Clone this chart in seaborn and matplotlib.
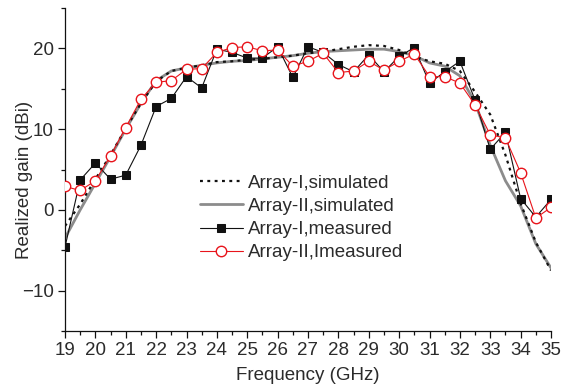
import matplotlib
matplotlib.use("Agg")
import matplotlib.pyplot as plt
from matplotlib.ticker import MultipleLocator
import seaborn as sns
import pandas as pd

# ---- data ----
freq = [19.0, 19.5, 20.0, 20.5, 21.0, 21.5, 22.0, 22.5, 23.0, 23.5, 24.0, 24.5,
        25.0, 25.5, 26.0, 26.5, 27.0, 27.5, 28.0, 28.5, 29.0, 29.5, 30.0, 30.5,
        31.0, 31.5, 32.0, 32.5, 33.0, 33.5, 34.0, 34.5, 35.0]

array1_sim = [-2.0, 0.7, 3.8, 6.8, 10.1, 13.2, 15.9, 17.2, 17.6, 17.9, 18.3, 18.4,
              18.6, 18.7, 18.9, 19.1, 19.4, 19.6, 19.9, 20.2, 20.4, 20.3, 19.8, 19.0,
              18.4, 18.1, 17.2, 14.6, 11.8, 6.8, 0.8, -4.0, -7.5]

array2_sim = [-3.5, 0.0, 3.3, 6.6, 10.0, 13.2, 16.0, 17.2, 17.6, 17.9, 18.2, 18.4,
              18.5, 18.7, 18.9, 19.1, 19.4, 19.6, 19.7, 19.8, 19.9, 19.9, 19.6, 19.1,
              18.2, 17.8, 16.6, 13.3, 8.0, 3.6, 0.5, -4.2, -7.2]

array1_meas = [-4.6, 3.7, 5.8, 3.8, 4.3, 8.0, 12.8, 13.8, 16.5, 15.1, 19.9, 19.5,
               18.8, 18.8, 20.2, 16.4, 20.2, 19.5, 18.0, 17.1, 19.2, 17.1, 19.0, 20.1,
               15.7, 17.1, 18.4, 13.6, 7.5, 9.6, 1.4, -0.9, 1.3]

array2_meas = [2.9, 2.4, 3.6, 6.7, 10.2, 13.7, 15.8, 16.0, 17.4, 17.5, 19.5, 20.1,
               20.2, 19.7, 19.8, 17.8, 18.4, 19.4, 17.0, 17.2, 18.4, 17.3, 18.4, 19.3,
               16.5, 16.5, 15.7, 13.0, 9.3, 8.9, 4.6, -1.0, 0.3]

labels = ["Array-I,simulated", "Array-II,simulated",
          "Array-I,measured", "Array-II,Imeasured"]
x_ticks = list(range(19, 36))
y_ticks = [-10, 0, 10, 20]

# ---- plot ----
sns.set_style("ticks")
plt.rcParams['font.family'] = ['Liberation Sans', 'DejaVu Sans']
txt = '#2b2b2b'
fs = 13.5

fig = plt.figure(figsize=(5.71, 3.88), dpi=100)
ax = fig.add_axes([65/571, 1 - 331/388, (551 - 65)/571, (331 - 8)/388])

df = pd.DataFrame({"f": freq, "s1": array1_sim, "s2": array2_sim,
                   "m1": array1_meas, "m2": array2_meas})

sns.lineplot(data=df, x="f", y="s2", ax=ax, color='#8c8c8c', lw=2.0,
             label=labels[1], zorder=2)
sns.lineplot(data=df, x="f", y="s1", ax=ax, color='#111111', lw=1.6,
             linestyle=(0, (1.3, 2.0)), label=labels[0], zorder=3)
sns.lineplot(data=df, x="f", y="m1", ax=ax, color='#111111', lw=0.8,
             marker='s', markersize=6.0, markerfacecolor='#111111',
             markeredgecolor='#111111', label=labels[2], zorder=4)
sns.lineplot(data=df, x="f", y="m2", ax=ax, color='#e8141b', lw=0.8,
             marker='o', markersize=7.5, markerfacecolor='white',
             markeredgecolor='#e8141b', markeredgewidth=1.0,
             label=labels[3], zorder=5)

ax.set_xlim(19, 35)
ax.set_ylim(-15, 25)
ax.set_xticks(x_ticks)
ax.set_yticks(y_ticks)
ax.xaxis.set_minor_locator(MultipleLocator(0.5))
ax.yaxis.set_minor_locator(MultipleLocator(5))
ax.tick_params(axis='both', which='major', direction='out', length=5, width=0.9,
               labelsize=fs, colors='#111111', labelcolor=txt, pad=3)
ax.tick_params(axis='both', which='minor', direction='out', length=3, width=0.9,
               colors='#111111')
for s in ['top', 'right']:
    ax.spines[s].set_visible(False)
for s in ['left', 'bottom']:
    ax.spines[s].set_linewidth(0.9)
    ax.spines[s].set_color('#111111')

ax.set_xlabel("Frequency (GHz)", fontsize=fs, color=txt)
ax.set_ylabel("Realized gain (dBi)", fontsize=fs, color=txt)
ax.xaxis.set_label_coords(0.5, -0.139)
ax.xaxis.label.set_verticalalignment('center')
ax.yaxis.set_label_coords(-0.084, 0.467)
ax.yaxis.label.set_verticalalignment('center')

handles, labs = ax.get_legend_handles_labels()
order = [labs.index(l) for l in labels]
leg = ax.legend([handles[i] for i in order], [labs[i] for i in order],
                loc='upper left', bbox_to_anchor=(0.262, 0.508), frameon=False,
                fontsize=fs, handlelength=2.3, handletextpad=0.27,
                labelspacing=0.33, borderaxespad=0)
for t in leg.get_texts():
    t.set_color(txt)

fig.savefig("out.png", dpi=100)
